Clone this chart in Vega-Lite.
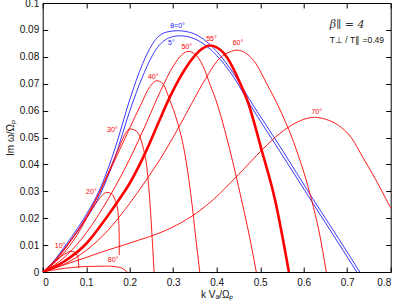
{
  "$schema": "https://vega.github.io/schema/vega-lite/v6.json",
  "width": 348,
  "height": 269,
  "autosize": {"type": "none"},
  "padding": {"left": 42.7, "top": 3, "right": 8.3, "bottom": 34},
  "config": {
    "view": {"stroke": "#000", "strokeWidth": 1},
    "font": "Liberation Sans",
    "axis": {"grid": false, "domain": false, "tickColor": "#000", "tickSize": -5, "labelFont": "Liberation Sans", "labelFontSize": 10, "labelColor": "#111", "titleFont": "Liberation Sans", "titleFontSize": 10, "titleFontWeight": "normal", "titleColor": "#111"}
  },
  "datasets": {
    "curves": [
      {"theta":"0°","i":0,"k":0,"g":0},{"theta":"0°","i":1,"k":0.025,"g":0.004},{"theta":"0°","i":2,"k":0.055,"g":0.0105},{"theta":"0°","i":3,"k":0.097,"g":0.0205},{"theta":"0°","i":4,"k":0.132,"g":0.031},{"theta":"0°","i":5,"k":0.166,"g":0.0458},{"theta":"0°","i":6,"k":0.2,"g":0.064},{"theta":"0°","i":7,"k":0.23,"g":0.0775},{"theta":"0°","i":8,"k":0.26,"g":0.0865},{"theta":"0°","i":9,"k":0.285,"g":0.0892},{"theta":"0°","i":10,"k":0.31,"g":0.0897},{"theta":"0°","i":11,"k":0.34,"g":0.089},{"theta":"0°","i":12,"k":0.37,"g":0.0865},{"theta":"0°","i":13,"k":0.4,"g":0.082},{"theta":"0°","i":14,"k":0.44,"g":0.0735},{"theta":"0°","i":15,"k":0.476,"g":0.064},{"theta":"0°","i":16,"k":0.545,"g":0.0468},{"theta":"0°","i":17,"k":0.621,"g":0.0272},{"theta":"0°","i":18,"k":0.68,"g":0.0125},{"theta":"0°","i":19,"k":0.729,"g":0},
      {"theta":"5°","i":0,"k":0,"g":0},{"theta":"5°","i":1,"k":0.025,"g":0.0037},{"theta":"5°","i":2,"k":0.055,"g":0.0097},{"theta":"5°","i":3,"k":0.097,"g":0.019},{"theta":"5°","i":4,"k":0.132,"g":0.0288},{"theta":"5°","i":5,"k":0.166,"g":0.0425},{"theta":"5°","i":6,"k":0.2,"g":0.0598},{"theta":"5°","i":7,"k":0.23,"g":0.0728},{"theta":"5°","i":8,"k":0.26,"g":0.0826},{"theta":"5°","i":9,"k":0.29,"g":0.087},{"theta":"5°","i":10,"k":0.315,"g":0.0878},{"theta":"5°","i":11,"k":0.34,"g":0.0872},{"theta":"5°","i":12,"k":0.37,"g":0.0848},{"theta":"5°","i":13,"k":0.4,"g":0.0805},{"theta":"5°","i":14,"k":0.44,"g":0.0722},{"theta":"5°","i":15,"k":0.476,"g":0.0624},{"theta":"5°","i":16,"k":0.545,"g":0.0449},{"theta":"5°","i":17,"k":0.621,"g":0.0256},{"theta":"5°","i":18,"k":0.68,"g":0.0107},{"theta":"5°","i":19,"k":0.722,"g":0},
      {"theta":"10°","i":0,"k":0,"g":0},{"theta":"10°","i":1,"k":0.02,"g":0.0025},{"theta":"10°","i":2,"k":0.04,"g":0.0055},{"theta":"10°","i":3,"k":0.055,"g":0.0071},{"theta":"10°","i":4,"k":0.065,"g":0.0077},{"theta":"10°","i":5,"k":0.073,"g":0.0074},{"theta":"10°","i":6,"k":0.079,"g":0.0062},{"theta":"10°","i":7,"k":0.082,"g":0.0045},{"theta":"10°","i":8,"k":0.083,"g":0.0015},
      {"theta":"20°","i":0,"k":0,"g":0},{"theta":"20°","i":1,"k":0.025,"g":0.0038},{"theta":"20°","i":2,"k":0.055,"g":0.0098},{"theta":"20°","i":3,"k":0.085,"g":0.0165},{"theta":"20°","i":4,"k":0.11,"g":0.0225},{"theta":"20°","i":5,"k":0.13,"g":0.0272},{"theta":"20°","i":6,"k":0.147,"g":0.0296},{"theta":"20°","i":7,"k":0.158,"g":0.0291},{"theta":"20°","i":8,"k":0.166,"g":0.027},{"theta":"20°","i":9,"k":0.172,"g":0.0235},{"theta":"20°","i":10,"k":0.175,"g":0.018},{"theta":"20°","i":11,"k":0.176,"g":0.012},{"theta":"20°","i":12,"k":0.176,"g":0.0063},
      {"theta":"30°","i":0,"k":0,"g":0},{"theta":"30°","i":1,"k":0.03,"g":0.0043},{"theta":"30°","i":2,"k":0.06,"g":0.0105},{"theta":"30°","i":3,"k":0.1,"g":0.0205},{"theta":"30°","i":4,"k":0.13,"g":0.0295},{"theta":"30°","i":5,"k":0.16,"g":0.0405},{"theta":"30°","i":6,"k":0.18,"g":0.048},{"theta":"30°","i":7,"k":0.19,"g":0.0515},{"theta":"30°","i":8,"k":0.2,"g":0.0532},{"theta":"30°","i":9,"k":0.212,"g":0.0527},{"theta":"30°","i":10,"k":0.223,"g":0.0505},{"theta":"30°","i":11,"k":0.232,"g":0.0455},{"theta":"30°","i":12,"k":0.239,"g":0.0395},{"theta":"30°","i":13,"k":0.246,"g":0.027},{"theta":"30°","i":14,"k":0.251,"g":0.0145},{"theta":"30°","i":15,"k":0.256,"g":0},
      {"theta":"40°","i":0,"k":0,"g":0},{"theta":"40°","i":1,"k":0.04,"g":0.0055},{"theta":"40°","i":2,"k":0.08,"g":0.014},{"theta":"40°","i":3,"k":0.12,"g":0.026},{"theta":"40°","i":4,"k":0.16,"g":0.0395},{"theta":"40°","i":5,"k":0.2,"g":0.0535},{"theta":"40°","i":6,"k":0.225,"g":0.062},{"theta":"40°","i":7,"k":0.245,"g":0.0685},{"theta":"40°","i":8,"k":0.262,"g":0.0711},{"theta":"40°","i":9,"k":0.275,"g":0.0702},{"theta":"40°","i":10,"k":0.292,"g":0.064},{"theta":"40°","i":11,"k":0.31,"g":0.0555},{"theta":"40°","i":12,"k":0.325,"g":0.0455},{"theta":"40°","i":13,"k":0.342,"g":0.0269},{"theta":"40°","i":14,"k":0.352,"g":0.0125},{"theta":"40°","i":15,"k":0.361,"g":0},
      {"theta":"50°","i":0,"k":0,"g":0},{"theta":"50°","i":1,"k":0.05,"g":0.0055},{"theta":"50°","i":2,"k":0.1,"g":0.0145},{"theta":"50°","i":3,"k":0.15,"g":0.027},{"theta":"50°","i":4,"k":0.2,"g":0.042},{"theta":"50°","i":5,"k":0.24,"g":0.056},{"theta":"50°","i":6,"k":0.27,"g":0.067},{"theta":"50°","i":7,"k":0.3,"g":0.0765},{"theta":"50°","i":8,"k":0.32,"g":0.0808},{"theta":"50°","i":9,"k":0.334,"g":0.082},{"theta":"50°","i":10,"k":0.35,"g":0.081},{"theta":"50°","i":11,"k":0.369,"g":0.0764},{"theta":"50°","i":12,"k":0.385,"g":0.0695},{"theta":"50°","i":13,"k":0.398,"g":0.064},{"theta":"50°","i":14,"k":0.43,"g":0.0455},{"theta":"50°","i":15,"k":0.457,"g":0.0269},{"theta":"50°","i":16,"k":0.475,"g":0.0135},{"theta":"50°","i":17,"k":0.491,"g":0},
      {"theta":"55°","i":0,"k":0,"g":0},{"theta":"55°","i":1,"k":0.05,"g":0.004},{"theta":"55°","i":2,"k":0.1,"g":0.0105},{"theta":"55°","i":3,"k":0.15,"g":0.021},{"theta":"55°","i":4,"k":0.178,"g":0.0275},{"theta":"55°","i":5,"k":0.2,"g":0.033},{"theta":"55°","i":6,"k":0.239,"g":0.0454},{"theta":"55°","i":7,"k":0.269,"g":0.0566},{"theta":"55°","i":8,"k":0.285,"g":0.0625},{"theta":"55°","i":9,"k":0.32,"g":0.0735},{"theta":"55°","i":10,"k":0.345,"g":0.0795},{"theta":"55°","i":11,"k":0.365,"g":0.0828},{"theta":"55°","i":12,"k":0.384,"g":0.0842},{"theta":"55°","i":13,"k":0.4,"g":0.0835},{"theta":"55°","i":14,"k":0.425,"g":0.0795},{"theta":"55°","i":15,"k":0.453,"g":0.0705},{"theta":"55°","i":16,"k":0.472,"g":0.063},{"theta":"55°","i":17,"k":0.503,"g":0.0455},{"theta":"55°","i":18,"k":0.534,"g":0.0269},{"theta":"55°","i":19,"k":0.566,"g":0},
      {"theta":"60°","i":0,"k":0,"g":0},{"theta":"60°","i":1,"k":0.05,"g":0.003},{"theta":"60°","i":2,"k":0.1,"g":0.008},{"theta":"60°","i":3,"k":0.15,"g":0.0155},{"theta":"60°","i":4,"k":0.2,"g":0.0255},{"theta":"60°","i":5,"k":0.235,"g":0.0335},{"theta":"60°","i":6,"k":0.269,"g":0.0417},{"theta":"60°","i":7,"k":0.31,"g":0.053},{"theta":"60°","i":8,"k":0.342,"g":0.0625},{"theta":"60°","i":9,"k":0.375,"g":0.072},{"theta":"60°","i":10,"k":0.407,"g":0.0795},{"theta":"60°","i":11,"k":0.43,"g":0.0818},{"theta":"60°","i":12,"k":0.446,"g":0.0825},{"theta":"60°","i":13,"k":0.47,"g":0.081},{"theta":"60°","i":14,"k":0.49,"g":0.0775},{"theta":"60°","i":15,"k":0.514,"g":0.0703},{"theta":"60°","i":16,"k":0.545,"g":0.0605},{"theta":"60°","i":17,"k":0.583,"g":0.0455},{"theta":"60°","i":18,"k":0.618,"g":0.0269},{"theta":"60°","i":19,"k":0.636,"g":0.0145},{"theta":"60°","i":20,"k":0.652,"g":0},
      {"theta":"70°","i":0,"k":0,"g":0},{"theta":"70°","i":1,"k":0.05,"g":0.0027},{"theta":"70°","i":2,"k":0.1,"g":0.0054},{"theta":"70°","i":3,"k":0.135,"g":0.0074},{"theta":"70°","i":4,"k":0.178,"g":0.0096},{"theta":"70°","i":5,"k":0.22,"g":0.0118},{"theta":"70°","i":6,"k":0.27,"g":0.0146},{"theta":"70°","i":7,"k":0.32,"g":0.0185},{"theta":"70°","i":8,"k":0.361,"g":0.0228},{"theta":"70°","i":9,"k":0.392,"g":0.0269},{"theta":"70°","i":10,"k":0.45,"g":0.0362},{"theta":"70°","i":11,"k":0.505,"g":0.0455},{"theta":"70°","i":12,"k":0.545,"g":0.0515},{"theta":"70°","i":13,"k":0.58,"g":0.0553},{"theta":"70°","i":14,"k":0.605,"g":0.057},{"theta":"70°","i":15,"k":0.625,"g":0.0575},{"theta":"70°","i":16,"k":0.65,"g":0.0568},{"theta":"70°","i":17,"k":0.68,"g":0.0545},{"theta":"70°","i":18,"k":0.71,"g":0.0498},{"theta":"70°","i":19,"k":0.736,"g":0.0426},{"theta":"70°","i":20,"k":0.765,"g":0.0345},{"theta":"70°","i":21,"k":0.79,"g":0.0269},{"theta":"70°","i":22,"k":0.8,"g":0.0238},{"theta":"70°","i":23,"k":0.815,"g":0.019},
      {"theta":"80°","i":0,"k":0,"g":0},{"theta":"80°","i":1,"k":0.03,"g":0.0009},{"theta":"80°","i":2,"k":0.07,"g":0.0017},{"theta":"80°","i":3,"k":0.11,"g":0.0021},{"theta":"80°","i":4,"k":0.147,"g":0.0022},{"theta":"80°","i":5,"k":0.17,"g":0.0019},{"theta":"80°","i":6,"k":0.185,"g":0.0012},{"theta":"80°","i":7,"k":0.194,"g":0}
    ],
    "labels": [
      {"theta":"0°","label":"θ=0°","k":0.31,"g":0.0915},
      {"theta":"5°","label":"5°","k":0.296,"g":0.0851},
      {"theta":"10°","label":"10°","k":0.04,"g":0.0095},
      {"theta":"20°","label":"20°","k":0.112,"g":0.0296},
      {"theta":"30°","label":"30°","k":0.16,"g":0.0528},
      {"theta":"40°","label":"40°","k":0.254,"g":0.0725},
      {"theta":"50°","label":"50°","k":0.331,"g":0.0835},
      {"theta":"55°","label":"55°","k":0.388,"g":0.0866},
      {"theta":"60°","label":"60°","k":0.449,"g":0.0851},
      {"theta":"70°","label":"70°","k":0.63,"g":0.0596},
      {"theta":"80°","label":"80°","k":0.162,"g":0.0046}
    ],
    "notes": [
      {"note":"β∥ = 4","k":0.66,"g":0.0919,"kind":"beta"},
      {"note":"T⊥ / T∥ =0.49","k":0.66,"g":0.0864,"kind":"ratio"}
    ]
  },
  "layer": [
    {
      "data": {"name": "curves"},
      "mark": {"type": "line", "clip": true, "interpolate": "monotone"},
      "encoding": {
        "x": {"field": "k", "type": "quantitative", "scale": {"domain": [0, 0.8], "nice": false}, "axis": {"orient": "bottom", "values": [0,0.1,0.2,0.3,0.4,0.5,0.6,0.7,0.8], "format": "~g", "labelPadding": 10, "title": "k Vₐ/Ωₚ", "titlePadding": 2}},
        "y": {"field": "g", "type": "quantitative", "scale": {"domain": [0, 0.1], "nice": false}, "axis": {"orient": "left", "values": [0,0.01,0.02,0.03,0.04,0.05,0.06,0.07,0.08,0.09,0.1], "format": "~g", "labelPadding": 9, "title": "Im ω/Ωₚ", "titlePadding": 4}},
        "order": {"field": "i", "type": "quantitative"},
        "detail": {"field": "theta"},
        "color": {"field": "theta", "type": "nominal", "legend": null, "scale": {"domain": ["0°","5°","10°","20°","30°","40°","50°","55°","60°","70°","80°"], "range": ["#2222ff","#2222ff","#ff0000","#ff0000","#ff0000","#ff0000","#ff0000","#ff0000","#ff0000","#ff0000","#ff0000"]}},
        "strokeWidth": {"condition": {"test": "datum.theta === '55°'", "value": 2.6}, "value": 0.9}
      }
    },
    {
      "data": {"name": "labels"},
      "mark": {"type": "text", "fontSize": 7, "font": "Liberation Sans"},
      "encoding": {
        "x": {"field": "k", "type": "quantitative", "axis": {"orient": "top", "values": [0,0.1,0.2,0.3,0.4,0.5,0.6,0.7,0.8], "labels": false, "title": null}},
        "y": {"field": "g", "type": "quantitative", "axis": {"orient": "right", "values": [0,0.01,0.02,0.03,0.04,0.05,0.06,0.07,0.08,0.09,0.1], "labels": false, "title": null}},
        "text": {"field": "label"},
        "color": {"field": "theta", "type": "nominal", "legend": null}
      }
    },
    {
      "data": {"name": "notes"},
      "transform": [{"filter": "datum.kind === 'beta'"}],
      "mark": {"type": "text", "align": "left", "fontSize": 11, "font": "DejaVu Serif", "fontStyle": "italic", "color": "#333"},
      "encoding": {
        "x": {"field": "k", "type": "quantitative", "axis": null},
        "y": {"field": "g", "type": "quantitative", "axis": null},
        "text": {"field": "note"}
      }
    },
    {
      "data": {"name": "notes"},
      "transform": [{"filter": "datum.kind === 'ratio'"}],
      "mark": {"type": "text", "align": "left", "fontSize": 8.5, "font": "Liberation Sans", "color": "#111"},
      "encoding": {
        "x": {"field": "k", "type": "quantitative", "axis": null},
        "y": {"field": "g", "type": "quantitative", "axis": null},
        "text": {"field": "note"}
      }
    }
  ],
  "resolve": {"axis": {"x": "independent", "y": "independent"}}
}
